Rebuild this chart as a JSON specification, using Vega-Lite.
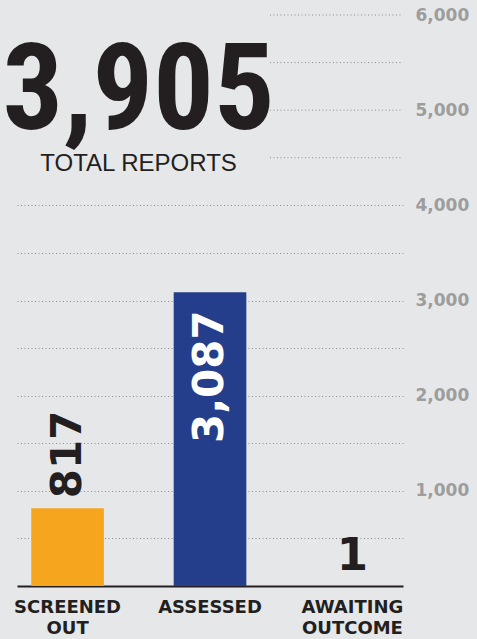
{
  "$schema": "https://vega.github.io/schema/vega-lite/v6.json",
  "autosize": "none",
  "width": 386,
  "height": 571,
  "padding": {"left": 17, "top": 15, "right": 74, "bottom": 53},
  "background": "#e6e7e9",
  "config": {"view": {"stroke": null}},
  "datasets": {
    "counts": [
      {"category": "SCREENED OUT", "count": 817},
      {"category": "ASSESSED", "count": 3087},
      {"category": "AWAITING OUTCOME", "count": 1}
    ],
    "upperGrid": [{"level": 4500}, {"level": 5000}, {"level": 5500}, {"level": 6000}],
    "total": [{"category": "SCREENED OUT", "total": 3905, "caption": "TOTAL REPORTS", "numY": 4800, "capY": 4360}]
  },
  "layer": [
    {
      "data": {"name": "counts"},
      "mark": {"type": "bar"},
      "encoding": {
        "x": {"field": "category", "type": "nominal", "sort": null,
          "scale": {"domain": ["SCREENED OUT", "ASSESSED", "AWAITING OUTCOME"], "paddingInner": 0.49, "paddingOuter": 0.1},
          "axis": {"title": null, "labelAngle": 0, "ticks": false, "domainColor": "#231f20", "domainWidth": 2,
            "labelExpr": "split(datum.label, ' ')", "labelFont": "DejaVu Sans", "labelFontWeight": "bold",
            "labelFontSize": 18, "labelColor": "#231f20", "labelPadding": 12, "labelLineHeight": 21, "labelBaseline": "top"}},
        "y": {"field": "count", "type": "quantitative",
          "scale": {"domain": [0, 6000], "nice": false},
          "axis": {"title": null, "orient": "right", "values": [500,1000,1500,2000,2500,3000,3500,4000,4500,5000,5500,6000],
            "labelExpr": "datum.value % 1000 === 0 ? format(datum.value, ',') : ''",
            "domain": false, "ticks": false, "grid": true,
            "gridColor": {"condition": {"test": "datum.value > 4000", "value": "transparent"}, "value": "#8c8c8c"},
            "gridDash": [1, 2.5], "gridWidth": 1,
            "labelFont": "DejaVu Sans", "labelFontWeight": "bold", "labelFontSize": 17, "labelColor": "#9d9d9d",
            "labelPadding": 12}},
        "color": {"field": "category", "type": "nominal", "legend": null,
          "scale": {"domain": ["SCREENED OUT", "ASSESSED", "AWAITING OUTCOME"], "range": ["#f6a51f", "#253e8c", "#231f20"]}}
      }
    },
    {
      "data": {"name": "upperGrid"},
      "mark": {"type": "rule", "color": "#8c8c8c", "strokeDash": [1, 2.5], "strokeWidth": 1},
      "encoding": {
        "x": {"datum": "AWAITING OUTCOME", "bandPosition": -0.635},
        "x2": {"datum": "AWAITING OUTCOME", "bandPosition": 1.196},
        "y": {"field": "level", "type": "quantitative"}
      }
    },
    {
      "data": {"name": "total"},
      "mark": {"type": "text", "font": "Roboto Condensed, DejaVu Sans Condensed, sans-serif", "fontWeight": "bold", "fontSize": 120, "align": "center", "baseline": "alphabetic", "dx": 71, "fill": "#231f20"},
      "encoding": {"x": {"field": "category", "type": "nominal"}, "y": {"field": "numY", "type": "quantitative"}, "text": {"field": "total", "format": ","}}
    },
    {
      "data": {"name": "total"},
      "mark": {"type": "text", "font": "Liberation Sans", "fontSize": 24, "align": "center", "baseline": "alphabetic", "dx": 71, "fill": "#231f20"},
      "encoding": {"x": {"field": "category", "type": "nominal"}, "y": {"field": "capY", "type": "quantitative"}, "text": {"field": "caption"}}
    },
    {
      "data": {"name": "counts"},
      "transform": [{"filter": "datum.category === 'SCREENED OUT'"}],
      "mark": {"type": "text", "angle": 270, "align": "left", "baseline": "middle", "dx": 10, "font": "DejaVu Sans", "fontWeight": "bold", "fontSize": 42, "fill": "#231f20"},
      "encoding": {"x": {"field": "category", "type": "nominal"}, "y": {"field": "count", "type": "quantitative"}, "text": {"field": "count", "format": ","}}
    },
    {
      "data": {"name": "counts"},
      "transform": [{"filter": "datum.category === 'ASSESSED'"}],
      "mark": {"type": "text", "angle": 270, "align": "right", "baseline": "middle", "dx": -18, "font": "DejaVu Sans", "fontWeight": "bold", "fontSize": 42, "fill": "#ffffff"},
      "encoding": {"x": {"field": "category", "type": "nominal"}, "y": {"field": "count", "type": "quantitative"}, "text": {"field": "count", "format": ","}}
    },
    {
      "data": {"name": "counts"},
      "transform": [{"filter": "datum.category === 'AWAITING OUTCOME'"}],
      "mark": {"type": "text", "align": "center", "baseline": "alphabetic", "dy": -16, "font": "DejaVu Sans", "fontWeight": "bold", "fontSize": 45, "fill": "#231f20"},
      "encoding": {"x": {"field": "category", "type": "nominal"}, "y": {"field": "count", "type": "quantitative"}, "text": {"field": "count", "format": ","}}
    }
  ]
}
